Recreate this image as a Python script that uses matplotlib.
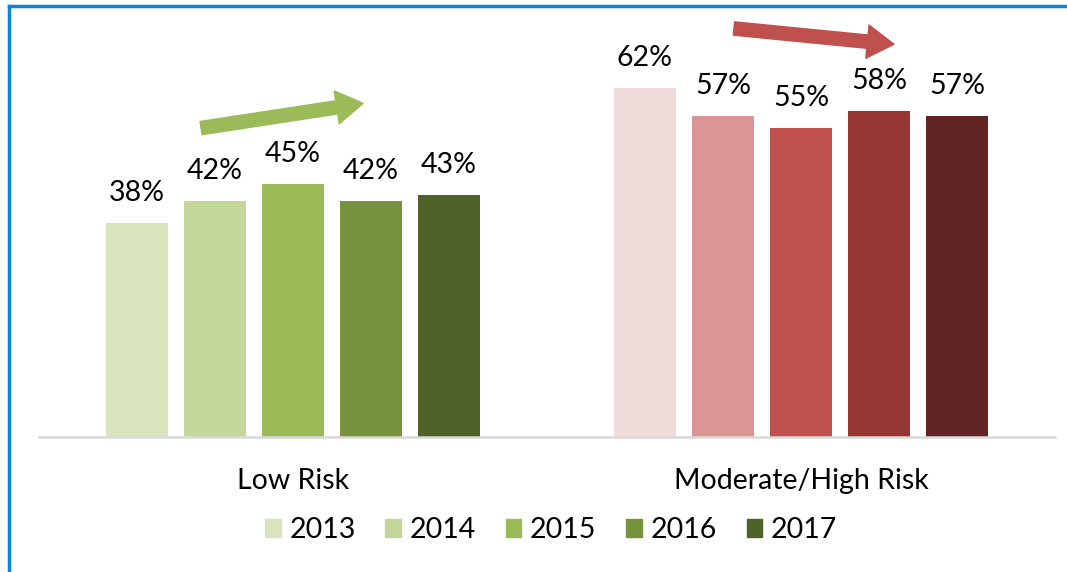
import matplotlib.pyplot as plt
import numpy as np
from matplotlib.lines import Line2D

plt.rcParams['font.family'] = ['Lato', 'DejaVu Sans']

# data
groups = ['Low Risk', 'Moderate/High Risk']
years = ['2013', '2014', '2015', '2016', '2017']
low_risk = [38, 42, 45, 42, 43]
mod_high_risk = [62, 57, 55, 58, 57]

green = ['#D8E4BC', '#C4D79B', '#9BBB59', '#76923C', '#4F6228']
red = ['#F2DCDB', '#DA9694', '#C0504D', '#963634', '#632523']

fig = plt.figure(figsize=(10.67, 5.72), dpi=100)
ax = fig.add_axes([39/1067, 1-437/572, (1055-39)/1067, (437-15)/572])

pitch = 78/508
width = 62/508
for i, yr in enumerate(years):
    x = np.arange(len(groups)) + (i - 2) * pitch
    vals = [low_risk[i], mod_high_risk[i]]
    bars = ax.bar(x, vals, width, color=[green[i], red[i]], label=yr)
    for b, v in zip(bars, vals):
        ax.text(b.get_x() + b.get_width()/2, v + 3.0, f'{v}%',
                ha='center', va='bottom', fontsize=20.5)

ax.set_xlim(-0.5, 1.5)
ax.set_ylim(0, 75)
ax.set_yticks([])
ax.set_xticks(range(len(groups)))
ax.set_xticklabels(groups, fontsize=20.5)
ax.tick_params(axis='x', length=0, pad=22)
for s in ['top', 'right', 'left']:
    ax.spines[s].set_visible(False)
ax.spines['bottom'].set_color('#D9D9D9')
ax.spines['bottom'].set_linewidth(1.8)

# trend arrows
ax.annotate('', xy=(0.138, 59.3), xytext=(-0.181, 54.9),
            arrowprops=dict(arrowstyle='simple,head_width=1.5,head_length=1.2,tail_width=0.6',
                            color='#9BBB59', shrinkA=0, shrinkB=0, mutation_scale=16),
            annotation_clip=False)
ax.annotate('', xy=(1.183, 69.8), xytext=(0.868, 72.6),
            arrowprops=dict(arrowstyle='simple,head_width=1.5,head_length=1.2,tail_width=0.6',
                            color='#C0504D', shrinkA=0, shrinkB=0, mutation_scale=16),
            annotation_clip=False)

# legend
handles = [plt.Rectangle((0, 0), 1, 1, color=c) for c in green]
fig.legend(handles, years, loc='center', bbox_to_anchor=(551/1067, 1-530/572),
           ncol=5, frameon=False, fontsize=20.5, handlelength=0.55, handleheight=0.55,
           handletextpad=0.3, columnspacing=1.05)

# blue frame
fig.add_artist(Line2D([9/1067, 9/1067], [0, 1-6/572], color='#0A84D8', lw=2.5))
fig.add_artist(Line2D([9/1067, 1], [1-6/572, 1-6/572], color='#0A84D8', lw=2.5))

fig.savefig('out.png', dpi=100)
